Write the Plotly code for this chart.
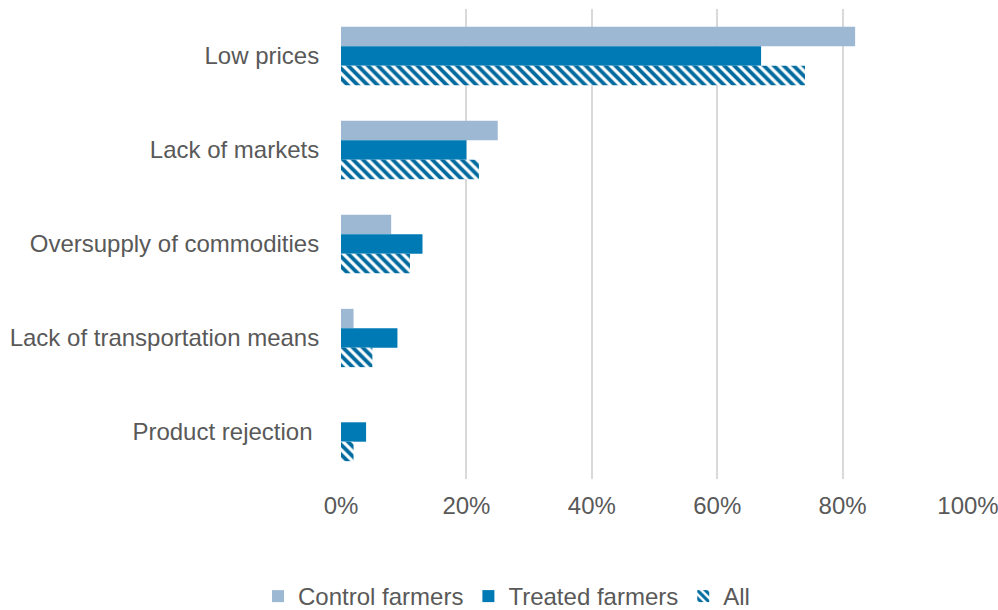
import plotly.graph_objects as go

# Reasons for not selling produce, share of respondents
categories = [
    "Low prices",
    "Lack of markets",
    "Oversupply of commodities",
    "Lack of transportation means",
    "Product rejection\u00a0",
]
control_farmers = [0.82, 0.25, 0.08, 0.02, 0.0]
treated_farmers = [0.67, 0.20, 0.13, 0.09, 0.04]
all_farmers = [0.74, 0.22, 0.11, 0.05, 0.02]

x_ticks = [0, 0.2, 0.4, 0.6, 0.8, 1.0]
x_tick_labels = ["0%", "20%", "40%", "60%", "80%", "100%"]

FONT = "Liberation Sans, Arial, sans-serif"
TEXT = "#595959"
SIZE = 24

fig = go.Figure()
fig.add_trace(go.Bar(
    name="Control farmers", y=categories, x=control_farmers, orientation="h",
    marker=dict(color="#9db8d3", line=dict(width=0)),
))
fig.add_trace(go.Bar(
    name="Treated farmers", y=categories, x=treated_farmers, orientation="h",
    marker=dict(color="#007ab5", line=dict(width=0)),
))
fig.add_trace(go.Bar(
    name="All", y=categories, x=all_farmers, orientation="h",
    marker=dict(
        color="#006a9e",
        line=dict(width=0),
        pattern=dict(shape="\\", fgcolor="#006a9e", bgcolor="white",
                     fgopacity=1, size=7, solidity=0.55, fillmode="replace"),
    ),
))

fig.update_layout(
    width=998, height=610,
    margin=dict(l=341, r=30, t=9, b=131, autoexpand=False),
    paper_bgcolor="white", plot_bgcolor="white",
    barmode="group", bargap=0.38, bargroupgap=0,
    font=dict(family=FONT, size=SIZE, color=TEXT),
    xaxis=dict(
        range=[0, 1.0], tickvals=x_ticks, ticktext=x_tick_labels,
        showgrid=True, gridcolor="#d9d9d9", gridwidth=2,
        zeroline=False, showline=False, automargin=False,
        ticklabeloverflow="allow",
        ticks="outside", ticklen=5, tickcolor="rgba(0,0,0,0)",
        tickfont=dict(family=FONT, size=SIZE, color=TEXT),
    ),
    yaxis=dict(
        autorange="reversed", type="category", automargin=False,
        showgrid=False, zeroline=False, showline=False,
        ticks="outside", ticklen=16, tickcolor="rgba(0,0,0,0)",
        tickfont=dict(family=FONT, size=SIZE, color=TEXT),
    ),
    legend=dict(
        orientation="h", x=0.264, xanchor="center", y=-0.25, yanchor="middle",
        font=dict(family=FONT, size=SIZE, color=TEXT),
        itemwidth=30, traceorder="normal",
    ),
)

fig.write_html("out.html")
